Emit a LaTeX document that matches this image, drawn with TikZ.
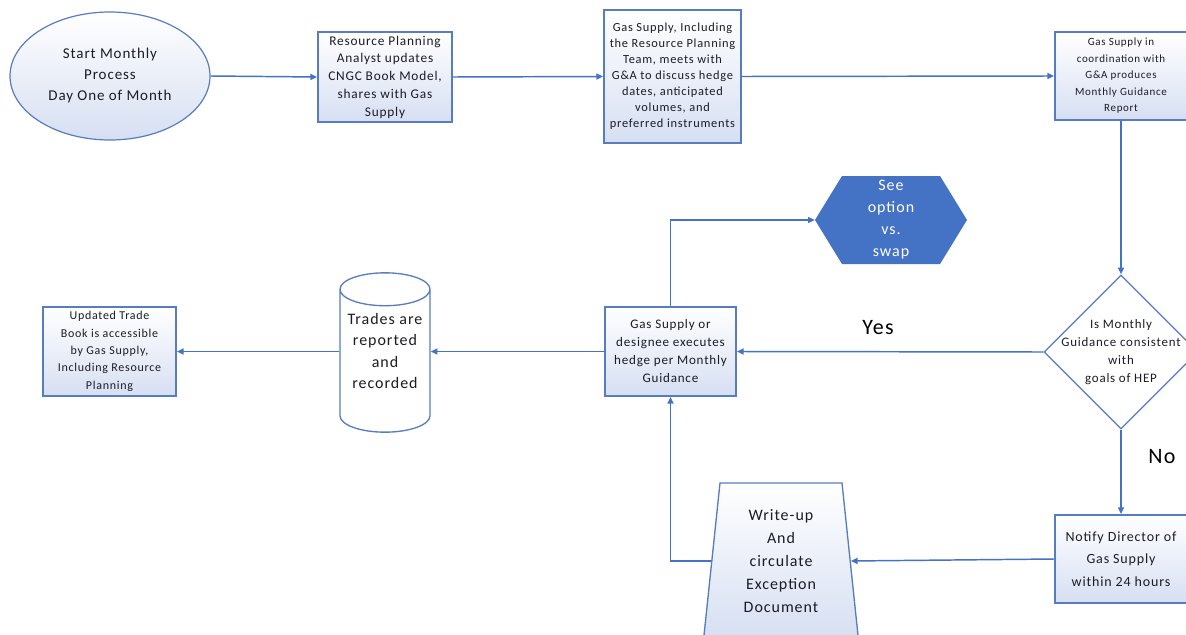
\documentclass[tikz,border=0pt]{standalone}
\usepackage{fontspec}
\setmainfont{Carlito}[LetterSpace=6]
\usetikzlibrary{arrows.meta,shapes.geometric,shapes.symbols}

\definecolor{flowblue}{RGB}{68,114,196}
\definecolor{edgeblue}{RGB}{88,124,192}
\definecolor{shadeblue}{RGB}{214,223,242}
\definecolor{inktext}{RGB}{28,28,38}

\tikzset{
  procbox/.style={draw=edgeblue, line width=1.4pt, top color=white, bottom color=shadeblue,
    align=center, text=inktext, inner sep=1pt},
  flowline/.style={draw=flowblue, line width=1.1pt, -{Triangle[length=5pt,width=4.5pt]}},
}

\begin{document}
\begin{tikzpicture}[x=0.75pt,y=0.75pt,yscale=-1,xscale=1]
\useasboundingbox (0,0) rectangle (1186,635);

%Shape: Ellipse
\node [ellipse, draw=edgeblue, line width=0.9pt, top color=white, bottom color=shadeblue,
  minimum width=150pt, minimum height=96pt, align=center, text=inktext,
  font=\fontsize{11.25}{15.75}\selectfont] (start) at (110,76) {Start Monthly\\Process\\Day One of Month};

%Shape: Rectangle
\node [procbox, minimum width=100.5pt, minimum height=67.5pt, font=\fontsize{10}{13.3}\selectfont]
  (analyst) at (385,77) {Resource Planning\\Analyst updates\\CNGC Book Model,\\shares with Gas\\Supply};
%Shape: Rectangle
\node [procbox, minimum width=102.75pt, minimum height=99.75pt, font=\fontsize{9.3}{12}\selectfont]
  (meets) at (672.5,76.5) {Gas Supply, Including\\the Resource Planning\\Team, meets with\\G\&A to discuss hedge\\dates, anticipated\\volumes, and\\preferred instruments};
%Shape: Rectangle
\node [procbox, minimum width=99pt, minimum height=66pt, font=\fontsize{8.25}{12.4}\selectfont]
  (report) at (1121,76) {Gas Supply in\\coordination with\\G\&A produces\\Monthly Guidance\\Report};

%Shape: Diamond
\node [diamond, aspect=1, draw=edgeblue, line width=1pt, fill=white,
  minimum width=115.5pt, minimum height=115.5pt] (check) at (1121,352) {};
% Text Node
\node [align=center, text=inktext, font=\fontsize{9.7}{13.5}\selectfont]
  (checktext) at (1121,352) {Is Monthly\\Guidance consistent\\with\\goals of HEP};

%Shape: Rectangle
\node [procbox, minimum width=99pt, minimum height=66pt, font=\fontsize{10.5}{16.9}\selectfont]
  (notify) at (1121,559) {Notify Director of\\Gas Supply\\within 24 hours};

%Shape: Trapezoid
\node [trapezium, trapezium left angle=84.4, trapezium right angle=84.4, trapezium stretches=true,
  draw=edgeblue, line width=1pt, top color=white, bottom color=shadeblue,
  minimum width=116.25pt, minimum height=117pt, align=center, text=inktext, inner sep=1pt,
  font=\fontsize{12}{17.25}\selectfont] (writeup) at (781,561) {Write-up\\And\\circulate\\Exception\\Document};

%Shape: Rectangle
\node [procbox, minimum width=98.25pt, minimum height=66.75pt, font=\fontsize{9.8}{13.5}\selectfont]
  (execute) at (670.5,351.5) {Gas Supply or\\designee executes\\hedge per Monthly\\Guidance};

%Shape: Hexagon
\node [signal, signal to=east and west, signal pointer angle=117, fill=flowblue, draw=none,
  minimum width=114pt, minimum height=66pt, align=center, text=white, inner sep=1pt,
  font=\fontsize{12}{16.5}\selectfont] (swap) at (891,220) {See\\option\\vs.\\swap};

%Shape: Can
\node [cylinder, shape border rotate=90, aspect=0.4, draw=edgeblue, line width=1pt, fill=white,
  text width=55pt, minimum width=67.5pt, minimum height=119.5pt, anchor=shape center] (trades) at (385,352.5) {};
% Text Node
\node [align=center, text=inktext, font=\fontsize{12}{16}\selectfont]
  (tradestext) at (385,351) {Trades are\\reported\\and\\recorded};

%Shape: Rectangle
\node [procbox, minimum width=99.75pt, minimum height=66.75pt, font=\fontsize{9}{13}\selectfont]
  (book) at (109.5,351.5) {Updated Trade\\Book is accessible\\by Gas Supply,\\Including Resource\\Planning};

%Straight Lines
\draw [flowline] (start.east) -- (analyst.west);
\draw [flowline] (analyst.east) -- (meets.west);
\draw [flowline] (meets.east) -- (report.west);
\draw [flowline] (report.south) -- (check.north);
\draw [flowline] (check.west) -- (execute.east);
\draw [flowline] (check.south) -- (notify.north);
\draw [flowline] (notify.west) -- (writeup.east);
\draw [flowline] (writeup.west) -| (execute.south);
\draw [flowline] (execute.north) |- (swap.west);
\draw [flowline] (execute.west) -- (execute.west -| trades.east);
\draw [flowline] (trades.west |- book.east) -- (book.east);

% Text Node
\node [font=\fontsize{16.5}{20}\selectfont, text=black] (yes) at (878,328) {Yes};
% Text Node
\node [font=\fontsize{16.5}{20}\selectfont, text=black] (no) at (1162,457) {No};

\end{tikzpicture}
\end{document}
